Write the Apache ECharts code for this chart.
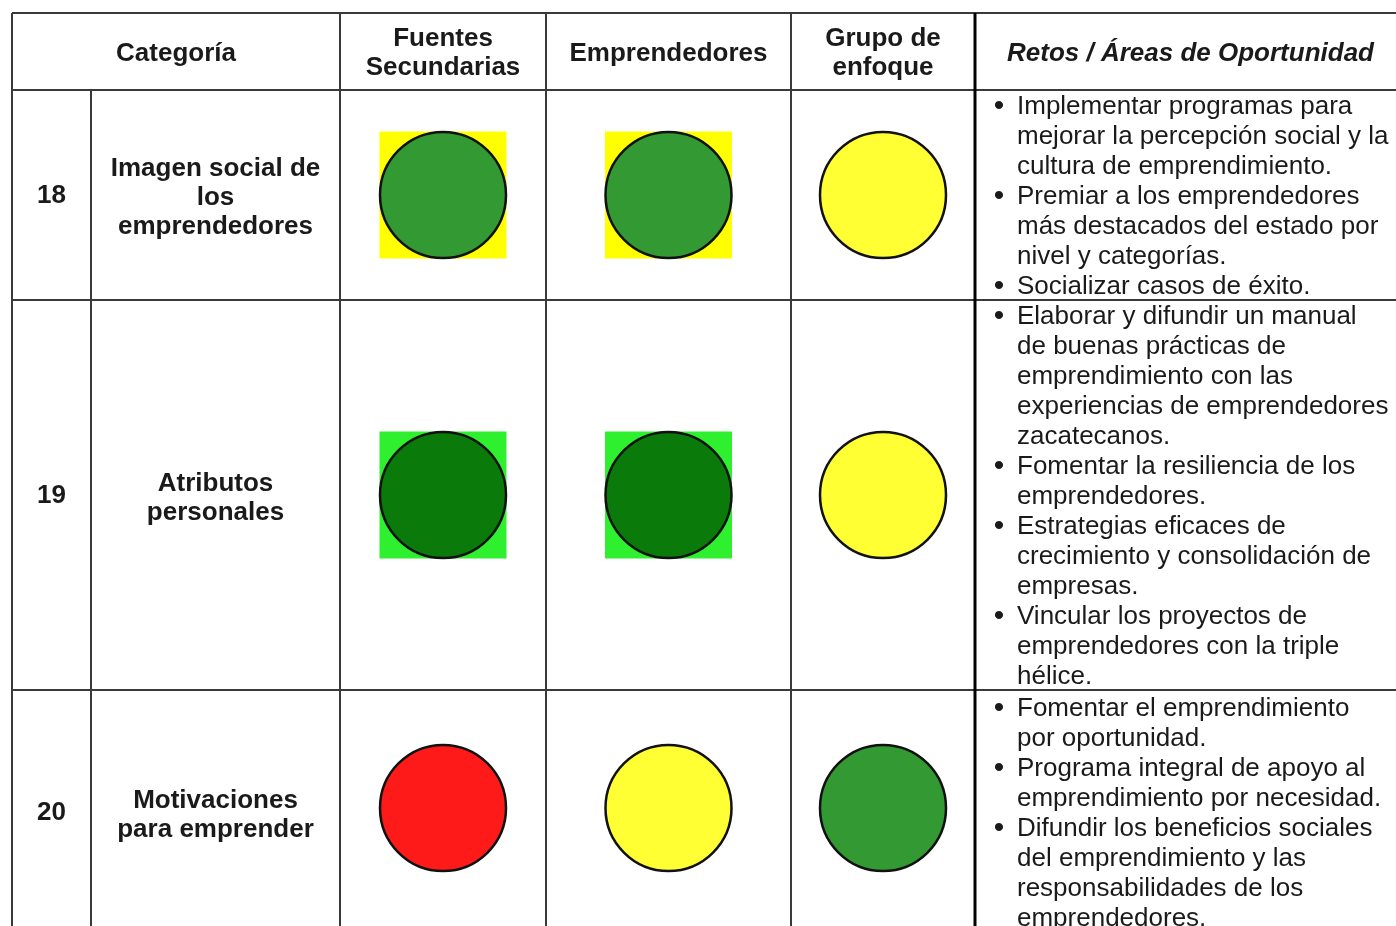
<!DOCTYPE html>
<html>
<head>
<meta charset="utf-8">
<script src="https://cdn.jsdelivr.net/npm/echarts@6/dist/echarts.min.js"></script>
<style>
html,body{margin:0;padding:0;background:#fff;}
#chart{width:1396px;height:926px;}
</style>
</head>
<body>
<div id="chart"></div>
<script>
// ---------- data ----------
const headers = ['Categoría', 'Fuentes\nSecundarias', 'Emprendedores', 'Grupo de\nenfoque', 'Retos / Áreas de Oportunidad'];
const rowNumbers = ['18', '19', '20'];
const categories = ['Imagen social de\nlos\nemprendedores', 'Atributos\npersonales', 'Motivaciones\npara emprender'];
const fuentesSecundarias = ['verde', 'verdeOscuro', 'rojo'];
const emprendedores = ['verde', 'verdeOscuro', 'amarillo'];
const grupoEnfoque = ['amarillo', 'amarillo', 'verde'];
const fuentesFondo = ['amarilloFondo', 'verdeClaro', null];
const emprendedoresFondo = ['amarilloFondo', 'verdeClaro', null];
const retos = [
  [
    ['Implementar programas para', 'mejorar la percepción social y la', 'cultura de emprendimiento.'],
    ['Premiar a los emprendedores', 'más destacados del estado por', 'nivel y categorías.'],
    ['Socializar casos de éxito.']
  ],
  [
    ['Elaborar y difundir un manual', 'de buenas prácticas de', 'emprendimiento con las', 'experiencias de emprendedores', 'zacatecanos.'],
    ['Fomentar la resiliencia de los', 'emprendedores.'],
    ['Estrategias eficaces de', 'crecimiento y consolidación de', 'empresas.'],
    ['Vincular los proyectos de', 'emprendedores con la triple', 'hélice.']
  ],
  [
    ['Fomentar el emprendimiento', 'por oportunidad.'],
    ['Programa integral de apoyo al', 'emprendimiento por necesidad.'],
    ['Difundir los beneficios sociales', 'del emprendimiento y las', 'responsabilidades de los', 'emprendedores.']
  ]
];

// ---------- layout / style ----------
const colEdges = [12, 91, 340, 546, 791, 975, 1396];
const rowEdges = [13, 90, 300, 690, 926];
const palette = {
  verde: '#339933',
  verdeOscuro: '#0a7a0a',
  rojo: '#ff1a1a',
  amarillo: '#ffff33',
  amarilloFondo: '#ffff00',
  verdeClaro: '#2ff02f'
};
const FONT = 'Liberation Sans, Arial, Helvetica, sans-serif';
const lineColor = '#3a3a3a';

function colCenter(i) { return (colEdges[i] + colEdges[i + 1]) / 2; }
function rowCenter(i) { return (rowEdges[i] + rowEdges[i + 1]) / 2; }

// circles & backgrounds from data
const statusCols = [fuentesSecundarias, emprendedores, grupoEnfoque];
const bgCols = [fuentesFondo, emprendedoresFondo, [null, null, null]];
const circleData = [];
const squareData = [];
statusCols.forEach((col, c) => {
  col.forEach((s, r) => {
    const x = colCenter(c + 2), y = rowCenter(r + 1);
    circleData.push({ value: [x, y], itemStyle: { color: palette[s] } });
    const bg = bgCols[c][r];
    if (bg) squareData.push({ value: [x, y], itemStyle: { color: palette[bg] } });
  });
});

// grid lines
const lineSegs = [];
rowEdges.slice(0, 4).forEach(y => lineSegs.push([colEdges[0], y, colEdges[6], y, lineColor, 2]));
[0, 2, 3, 4].forEach(i => lineSegs.push([colEdges[i], rowEdges[0], colEdges[i], rowEdges[4], lineColor, 2]));
lineSegs.push([colEdges[5], rowEdges[0], colEdges[5], rowEdges[4], '#000', 3]);
lineSegs.push([colEdges[1], rowEdges[1], colEdges[1], rowEdges[4], lineColor, 2]);

// text items
const textItems = [];
const HDR_DY = 2;
textItems.push({ x: (colEdges[0] + colEdges[2]) / 2, y: rowCenter(0) + HDR_DY, text: headers[0], bold: true, align: 'center' });
[2, 3, 4].forEach((ci, k) => textItems.push({ x: colCenter(ci), y: rowCenter(0) + HDR_DY, text: headers[k + 1], bold: true, align: 'center' }));
textItems.push({ x: colCenter(5) + 5, y: rowCenter(0) + HDR_DY, text: headers[4], bold: true, italic: true, align: 'center' });
const numOffsets = [1, 1, 5];
rowNumbers.forEach((n, r) => textItems.push({ x: colCenter(0), y: rowCenter(r + 1) + numOffsets[r], text: n, bold: true, align: 'center' }));
const catOffsets = [3, 3, 7];
categories.forEach((t, r) => textItems.push({ x: colCenter(1), y: rowCenter(r + 1) + catOffsets[r], text: t, bold: true, align: 'center' }));
const LINE_H = 30;
const retoStart = [17, 17, 19];
retos.forEach((bullets, r) => {
  let y = rowEdges[r + 1] + retoStart[r];
  bullets.forEach(lines => {
    textItems.push({ x: 999, y: y, text: '•', align: 'center', bullet: true });
    lines.forEach(l => {
      textItems.push({ x: 1017, y: y, text: l, align: 'left' });
      y += LINE_H;
    });
  });
});

const chart = echarts.init(document.getElementById('chart'), null, { renderer: 'canvas' });
chart.setOption({
  backgroundColor: '#fff',
  animation: false,
  grid: { left: 0, right: 0, top: 0, bottom: 0 },
  xAxis: { type: 'value', min: 0, max: 1396, show: false },
  yAxis: { type: 'value', min: 0, max: 926, inverse: true, show: false },
  series: [
    {
      type: 'scatter',
      symbol: 'rect',
      symbolSize: 127,
      z: 1,
      silent: true,
      itemStyle: { opacity: 1 },
      data: squareData
    },
    {
      type: 'scatter',
      symbol: 'circle',
      symbolSize: 126,
      z: 2,
      silent: true,
      itemStyle: { borderColor: '#111', borderWidth: 2.5, opacity: 1 },
      data: circleData
    },
    {
      type: 'custom',
      z: 3,
      silent: true,
      clip: false,
      data: lineSegs,
      renderItem: function (params, api) {
        const p1 = api.coord([api.value(0), api.value(1)]);
        const p2 = api.coord([api.value(2), api.value(3)]);
        const d = lineSegs[params.dataIndex];
        return {
          type: 'line',
          shape: { x1: p1[0], y1: p1[1], x2: p2[0], y2: p2[1] },
          style: { stroke: d[4], lineWidth: d[5] }
        };
      }
    },
    {
      type: 'custom',
      z: 4,
      silent: true,
      clip: false,
      data: textItems.map(t => [t.x, t.y]),
      renderItem: function (params, api) {
        const t = textItems[params.dataIndex];
        const p = api.coord([api.value(0), api.value(1)]);
        return {
          type: 'text',
          x: p[0],
          y: p[1],
          style: {
            text: t.text,
            fontFamily: FONT,
            fontSize: t.bullet ? 30 : 26,
            fontWeight: t.bold ? 'bold' : 'normal',
            fontStyle: t.italic ? 'italic' : 'normal',
            lineHeight: t.bold ? 29 : 30,
            fill: '#1a1a1a',
            align: t.align,
            verticalAlign: 'middle'
          }
        };
      }
    }
  ]
});
</script>
</body>
</html>
